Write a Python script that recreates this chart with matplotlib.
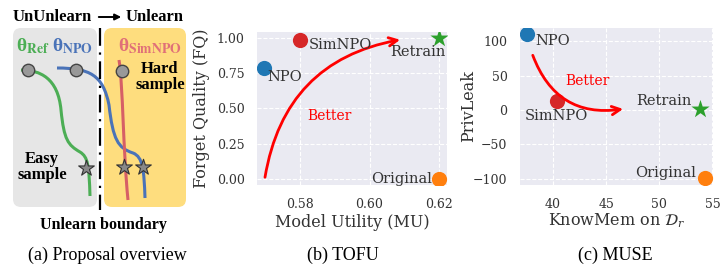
import numpy as np
import matplotlib
matplotlib.use("Agg")
import matplotlib.pyplot as plt
from matplotlib.path import Path
from matplotlib.patches import PathPatch, FancyBboxPatch

# ---- data: (b) TOFU ----
tofu_names = ["NPO", "SimNPO", "Retrain", "Original"]
tofu_mu = [0.5697, 0.580, 0.620, 0.620]
tofu_fq = [0.79, 0.99, 1.00, 0.00]

# ---- data: (c) MUSE ----
muse_names = ["NPO", "SimNPO", "Retrain", "Original"]
muse_km = [37.6, 40.35, 53.8, 54.3]
muse_pl = [110, 13, 1, -98]

colors = {"NPO": "#1f77b4", "SimNPO": "#d62728", "Retrain": "#2ca02c", "Original": "#ff7f0e"}
markers = {"NPO": "o", "SimNPO": "o", "Retrain": "*", "Original": "o"}

# ---- diagram (a), in pixel units of the left panel ----
green_path = [(21, 70), (40, 70), (58, 78), (61, 110),
              (64, 140), (68, 145), (80, 152),
              (88, 157), (89, 165), (90, 196)]
blue_path = [(57, 68), (90, 68), (103, 75), (109, 105),
             (113, 140), (118, 148), (133, 153),
             (143, 157), (144, 170), (145, 198)]
red_path = [(119, 60), (123, 85), (123, 150), (128, 200)]
start_pts = [(28, 70), (76, 70), (122, 71)]
end_pts = [(86, 168), (124, 167), (143, 167)]

W, H = 727, 264
fig = plt.figure(figsize=(W / 100, H / 100), dpi=100)

serif = "Liberation Serif"
tick_font = "DejaVu Serif"

# ================= (a) =================
axa = fig.add_axes([0, 0, 196 / W, 1])
axa.set_xlim(0, 196)
axa.set_ylim(H, 0)
axa.axis("off")

axa.add_patch(FancyBboxPatch((13 + 8, 28 + 8), 84 - 16, 179 - 16,
                             boxstyle="round,pad=8", fc="#e6e6e6", ec="none"))
axa.add_patch(FancyBboxPatch((104 + 8, 28 + 8), 82 - 16, 179 - 16,
                             boxstyle="round,pad=8", fc="#fedd7e", ec="none"))
axa.plot([100, 100], [28, 210], color="black", lw=1.6, ls=(0, (8, 3, 1, 3)))


def bez(pts, col, lw=2.2):
    codes = [Path.MOVETO] + [Path.CURVE4] * (len(pts) - 1)
    axa.add_patch(PathPatch(Path(pts, codes), fc="none", ec=col, lw=lw, capstyle="butt"))


bez(green_path, "#4cae55")
bez(blue_path, "#4a73b8")
bez(red_path, "#d65f66")
for x, y in start_pts:
    axa.scatter(x, y, s=80, c="#999999", edgecolors="#444444", linewidths=1, zorder=5)
for x, y in end_pts:
    axa.scatter(x, y, s=140, marker="*", c="#888888", edgecolors="#333333", linewidths=0.8, zorder=5)

axa.text(52, 17, "UnUnlearn", ha="center", va="center", fontsize=12, fontweight="bold", family=serif)
axa.annotate("", xy=(124, 17), xytext=(96, 17),
             arrowprops=dict(arrowstyle="-|>", color="black", lw=1.4, mutation_scale=9))
axa.text(155, 17, "Unlearn", ha="center", va="center", fontsize=12, fontweight="bold", family=serif)

theta_kw = dict(ha="center", va="center", fontsize=14, fontweight="bold", family=serif,
                math_fontfamily="stix")
axa.text(33, 46, r"θ$_{\mathbf{Ref}}$", color="#4cae55", **theta_kw)
axa.text(72, 46, r"θ$_{\mathbf{NPO}}$", color="#4a73b8", **theta_kw)
axa.text(150, 46, r"θ$_{\mathbf{SimNPO}}$", color="#e07078", **theta_kw)

axa.text(160, 77, "Hard\nsample", ha="center", va="center", fontsize=12, fontweight="bold",
         family=serif, linespacing=1.05)
axa.text(42, 167, "Easy\nsample", ha="center", va="center", fontsize=12, fontweight="bold",
         family=serif, linespacing=1.05)
axa.text(103, 225, "Unlearn boundary", ha="center", va="center", fontsize=11.5,
         fontweight="bold", family=serif)
axa.text(107, 255, "(a) Proposal overview", ha="center", va="center", fontsize=13, family=serif)


def style(ax):
    ax.set_facecolor("#eaeaf2")
    for s in ax.spines.values():
        s.set_visible(False)
    ax.grid(True, color="white", ls="--", lw=0.8)
    ax.set_axisbelow(True)
    ax.tick_params(length=0, labelsize=9, labelcolor="#333333", pad=9)
    for lab in ax.get_xticklabels() + ax.get_yticklabels():
        lab.set_family(tick_font)


# ================= (b) =================
axb = fig.add_axes([257 / W, (H - 185) / H, 190 / W, 153 / H])
axb.set_xlim(0.5676, 0.6223)
axb.set_ylim(-0.045, 1.045)
axb.set_xticks([0.58, 0.60, 0.62])
axb.set_yticks([0, 0.25, 0.5, 0.75, 1.0])
axb.xaxis.set_major_formatter(matplotlib.ticker.FormatStrFormatter("%.2f"))
axb.yaxis.set_major_formatter(matplotlib.ticker.FormatStrFormatter("%.2f"))
style(axb)

offs_b = {"NPO": ((2, -6.5), "left"), "SimNPO": ((6, -4), "left"),
          "Retrain": ((5, -10), "right"), "Original": ((-5, 0), "right")}
for n, x, y in zip(tofu_names, tofu_mu, tofu_fq):
    axb.scatter(x, y, s=190 if markers[n] == "*" else 120, marker=markers[n], c=colors[n],
                zorder=3, linewidths=0)
    off, ha = offs_b[n]
    axb.annotate(n, (x, y), xytext=off, textcoords="offset points", ha=ha, va="center",
                 fontsize=10.5, family=tick_font, color="#333333", zorder=4)

axb.annotate("", xy=(0.6088, 0.99), xytext=(0.5699, 0.01),
             arrowprops=dict(arrowstyle="->", color="red", lw=2, mutation_scale=15,
                             connectionstyle="arc3,rad=-0.35", shrinkA=0, shrinkB=0))
axb.text(0.5884, 0.45, "Better", color="red", fontsize=10, family=tick_font, ha="center", va="center")
axb.set_xlabel("Model Utility (MU)", fontsize=11.5, family=tick_font, color="#333333")
axb.set_ylabel("Forget Quality (FQ)", fontsize=11.5, family=tick_font, color="#333333")
axb.xaxis.set_label_coords(0.5, -0.19)
axb.yaxis.set_label_coords(-0.247, 0.5)
fig.text(343 / W, 1 - 255 / H, "(b) TOFU", ha="center", va="center", fontsize=13, family=serif)

# ================= (c) =================
axc = fig.add_axes([520 / W, (H - 185) / H, 193 / W, 157 / H])
axc.set_xlim(36.9, 55.05)
axc.set_ylim(-108.8, 119)
axc.set_xticks([40, 45, 50, 55])
axc.set_yticks([-100, -50, 0, 50, 100])
style(axc)

offs_c = {"NPO": ((6, -5), "left"), "SimNPO": ((0, -11), "center"),
          "Retrain": ((-6, 6), "right"), "Original": ((-6.5, 3), "right")}
for n, x, y in zip(muse_names, muse_km, muse_pl):
    axc.scatter(x, y, s=190 if markers[n] == "*" else 120, marker=markers[n], c=colors[n],
                zorder=3, linewidths=0)
    off, ha = offs_c[n]
    axc.annotate(n, (x, y), xytext=off, textcoords="offset points", ha=ha, va="center",
                 fontsize=10.5, family=tick_font, color="#333333", zorder=4)

axc.annotate("", xy=(46.6, 1.5), xytext=(38.1, 79.4),
             arrowprops=dict(arrowstyle="->", color="red", lw=2, mutation_scale=15,
                             connectionstyle="arc3,rad=0.4", shrinkA=0, shrinkB=0))
axc.text(43.2, 42.6, "Better", color="red", fontsize=10, family=tick_font, ha="center", va="center")
axc.set_xlabel(r"KnowMem on $\mathcal{D}_r$", fontsize=11.5, family=tick_font, color="#333333",
               math_fontfamily="dejavuserif")
axc.set_ylabel("PrivLeak", fontsize=11.5, family=tick_font, color="#333333")
axc.xaxis.set_label_coords(0.5, -0.17)
axc.yaxis.set_label_coords(-0.223, 0.5)
fig.text(615 / W, 1 - 255 / H, "(c) MUSE", ha="center", va="center", fontsize=13, family=serif)

fig.savefig("out.png", dpi=100)
